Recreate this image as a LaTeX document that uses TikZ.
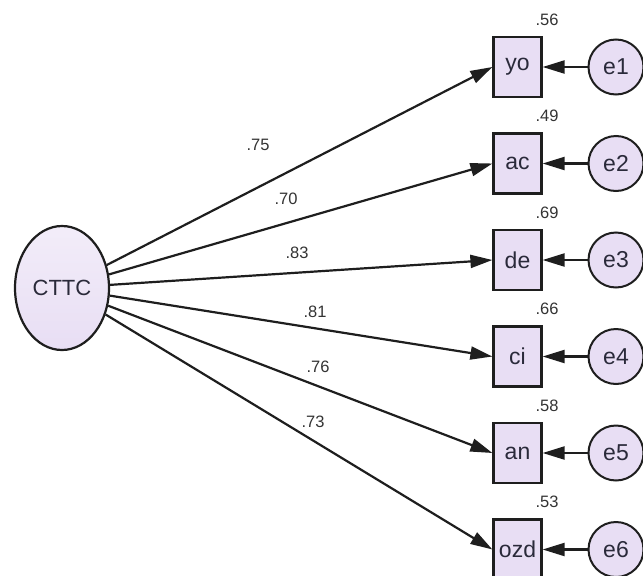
\documentclass[tikz,border=0pt]{standalone}
\usepackage{fontspec}
\setmainfont{Liberation Sans}
\usetikzlibrary{arrows.meta,shapes.geometric}
\definecolor{lav}{HTML}{E8DEF4}
\definecolor{ink}{HTML}{1E1E1E}
\definecolor{lbl}{HTML}{333333}
\definecolor{txt}{HTML}{2A2A3A}
\begin{document}
\begin{tikzpicture}[x=1pt,y=-1pt,
  obs/.style={draw=ink,line width=2.2pt,fill=lav,minimum width=48pt,minimum height=60pt,inner sep=0pt,font=\fontsize{23}{26}\selectfont,text=txt},
  err/.style={circle,draw=ink,line width=2pt,fill=lav,minimum size=55pt,inner sep=0pt,font=\fontsize{23}{26}\selectfont,text=txt},
  lat/.style={ellipse,draw=ink,line width=2.2pt,top color=lav!55,bottom color=lav,minimum width=94pt,minimum height=124pt,inner sep=0pt,font=\fontsize{22}{26}\selectfont,text=txt},
  path/.style={draw=ink,line width=2.2pt,-{Triangle[length=22pt,width=13pt]}},
  rl/.style={font=\fontsize{16.5}{18}\selectfont,text=lbl},
  el/.style={font=\fontsize{16.5}{18}\selectfont,text=lbl}]
\useasboundingbox (0,0) rectangle (643,576);
\node[lat] (cttc) at (62,288) {CTTC};
\foreach \n/\t/\y/\r/\e in {yo/yo/67/.56/e1, ac/ac/163.5/.49/e2, de/de/260/.69/e3, ci/ci/356.5/.66/e4, an/an/453/.58/e5, ozd/ozd/549.5/.53/e6}{
  \node[obs] (\n) at (517.5,\y) {\t};
  \node[err] (\e) at (616,\y) {\e};
  \node[rl,anchor=base] (r\n) at (547,\y-42) {\r};
  \draw[path] (\e) -- (\n.east);
}
\draw[path] (cttc) -- (yo.west);
\draw[path] (cttc) -- (ac.west);
\draw[path] (cttc) -- (de.west);
\draw[path] (cttc) -- (ci.west);
\draw[path] (cttc) -- (an.west);
\draw[path] (cttc) -- (ozd.west);
\node[el] (l1) at (258,145) {.75};
\node[el] (l2) at (286,199) {.70};
\node[el] (l3) at (297,253) {.83};
\node[el] (l4) at (315,312) {.81};
\node[el] (l5) at (318,367) {.76};
\node[el] (l6) at (313,422) {.73};
\end{tikzpicture}
\end{document}
